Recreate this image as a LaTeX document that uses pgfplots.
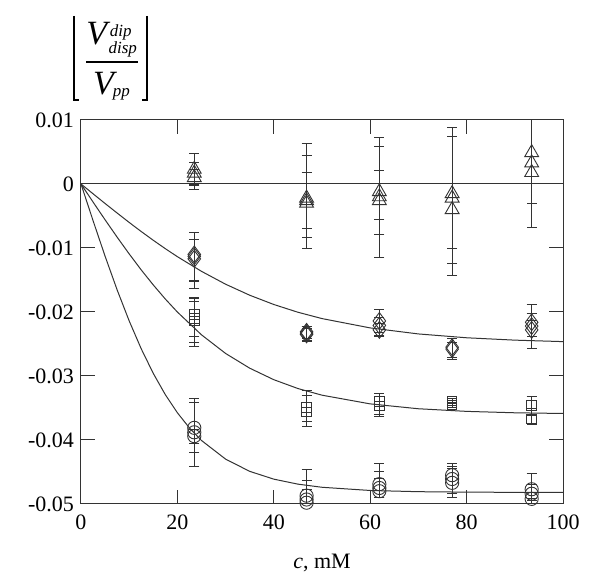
\documentclass[border=0pt]{standalone}
\usepackage{fontspec}
\setmainfont{Liberation Serif}
\usepackage{pgfplots}
\usepackage{pgfplotstable}
\pgfplotsset{compat=1.18}

\definecolor{ink}{HTML}{333333}

% x  y  (error plus / minus)
\pgfplotstableread{
x     y        ep      em
23.5  0.0023   0.0024  0.0024
23.5  0.0017   0.0016  0.0020
23.5  0.0010   0.0012  0.0018
46.8  -0.0022  0.0086  0.0078
46.8  -0.0026  0.0071  0.0058
46.8  -0.0030  0.0048  0.0039
61.9  -0.0012  0.0085  0.0103
61.9  -0.0020  0.0079  0.0059
61.9  -0.0026  0.0047  0.0030
77.0  -0.0015  0.0090  0.0085
77.0  -0.0022  0.0111  0.0102
77.0  -0.0040  0.0115  0.0103
93.5  0.0049   0.0111  0.0079
93.5  0.0033   0.0097  0.0101
93.5  0.0018   0.0090  0.0048
}\tri

\pgfplotstableread{
x     y        ep      em
23.5  -0.0110  0.0034  0.0040
23.5  -0.0113  0.0037  0.0050
23.5  -0.0117  0.0030  0.0035
46.8  -0.0231  0.0008  0.0010
46.8  -0.0233  0.0010  0.0011
46.8  -0.0235  0.0009  0.0011
61.9  -0.0214  0.0018  0.0018
61.9  -0.0221  0.0012  0.0015
61.9  -0.0228  0.0010  0.0011
77.0  -0.0255  0.0014  0.0016
77.0  -0.0258  0.0010  0.0016
93.5  -0.0216  0.0028  0.0023
93.5  -0.0222  0.0020  0.0035
93.5  -0.0228  0.0015  0.0011
}\dia

\pgfplotstableread{
x     y        ep      em
23.5  -0.0204  0.0026  0.0035
23.5  -0.0210  0.0026  0.0037
23.5  -0.0214  0.0035  0.0040
46.8  -0.0349  0.0027  0.0022
46.8  -0.0356  0.0026  0.0023
61.9  -0.0340  0.0013  0.0020
61.9  -0.0347  0.0020  0.0017
77.0  -0.0339  0.0004  0.0004
77.0  -0.0345  0.0004  0.0004
93.5  -0.0346  0.0014  0.0015
93.5  -0.0367  0.0016  0.0008
}\sqr

\pgfplotstableread{
x     y        ep      em
23.5  -0.0381  0.0046  0.0039
23.5  -0.0388  0.0046  0.0054
23.5  -0.0394  0.0010  0.0011
46.8  -0.0487  0.0041  0.0041
46.8  -0.0493  0.0030  0.0030
46.8  -0.0498  0.0020  0.0020
61.9  -0.0469  0.0033  0.0021
61.9  -0.0475  0.0026  0.0015
61.9  -0.0480  0.0020  0.0010
77.0  -0.0455  0.0019  0.0028
77.0  -0.0461  0.0020  0.0029
77.0  -0.0467  0.0022  0.0016
93.5  -0.0477  0.0024  0.0015
93.5  -0.0484  0.0015  0.0010
93.5  -0.0492  0.0010  0.0008
}\cir

\pgfplotsset{
  pts/.style={only marks, mark size=#1, ink,
    mark options={draw=ink, fill=none, line width=0.45pt},
    error bars/.cd, y dir=both, y explicit,
    error bar style={ink, line width=0.45pt},
    error mark options={ink, mark size=2.5pt, rotate=90, line width=0.45pt}},
  fit/.style={ink, line width=0.5pt, no marks},
}

\begin{document}
\begin{tikzpicture}
\begin{axis}[
    scale only axis,
    width=241pt, height=192pt,
    xmin=0, xmax=100,
    ymin=-0.05, ymax=0.01,
    xtick={0,20,40,60,80,100},
    ytick={-0.05,-0.04,-0.03,-0.02,-0.01,0,0.01},
    yticklabels={-0.05,-0.04,-0.03,-0.02,-0.01,0,0.01},
    scaled y ticks=false,
    /pgf/number format/assume math mode=true,
    tick align=inside,
    major tick length=7pt,
    axis line style={ink, line width=0.5pt},
    tick style={ink, line width=0.5pt},
    tick label style={font=\fontsize{11}{13}\selectfont},
    xticklabel style={yshift=-2pt},
    xlabel={\textit{c}, mM},
    xlabel style={font=\fontsize{11}{13}\selectfont, yshift=-5pt},
    clip=true,
    ]

    \coordinate (bl) at (rel axis cs:0,0);
    \coordinate (tr) at (rel axis cs:1,1);

    \addplot[fit] coordinates {(0,0) (100,0)};

    \addplot[fit] coordinates {
    (0,0) (2.5,-0.00153) (5,-0.00305) (7.5,-0.00454) (10,-0.00601)
    (12.5,-0.00743) (15,-0.00880) (17.5,-0.01011) (20,-0.01136)
    (25,-0.01365) (30,-0.01566) (35,-0.01738) (40,-0.01883) (45,-0.02004)
    (50,-0.02103) (60,-0.02249) (70,-0.02343) (80,-0.02403) (90,-0.02440)
    (100,-0.02463)};

    \addplot[fit] coordinates {
    (0,0) (2.5,-0.00282) (5,-0.00560) (7.5,-0.00831) (10,-0.01093)
    (12.5,-0.01343) (15,-0.01578) (17.5,-0.01798) (20,-0.02001)
    (25,-0.02357) (30,-0.02648) (35,-0.02878) (40,-0.03058) (45,-0.03196)
    (50,-0.03300) (60,-0.03436) (70,-0.03512) (80,-0.03553) (90,-0.03575)
    (100,-0.03586)};

    \addplot[fit] coordinates {
    (0,0) (2.5,-0.00572) (5,-0.01129) (7.5,-0.01655) (10,-0.02140)
    (12.5,-0.02576) (15,-0.02960) (17.5,-0.03293) (20,-0.03575)
    (22.5,-0.03812) (25,-0.04008) (30,-0.04299) (35,-0.04490)
    (40,-0.04612) (45,-0.04690) (50,-0.04739) (60,-0.04789)
    (70,-0.04808) (80,-0.04815) (90,-0.04818) (100,-0.04819)};

    \addplot[mark=triangle, pts=4pt]
      table[x=x, y=y, y error plus=ep, y error minus=em]{\tri};
    \addplot[mark=diamond, pts=4.2pt]
      table[x=x, y=y, y error plus=ep, y error minus=em]{\dia};
    \addplot[mark=square, pts=2.4pt]
      table[x=x, y=y, y error plus=ep, y error minus=em]{\sqr};
    \addplot[mark=o, pts=3.3pt]
      table[x=x, y=y, y error plus=ep, y error minus=em]{\cir};
\end{axis}

% y label: |V_disp^dip / V_pp| set by hand above the top-left corner
\coordinate (tl) at (tr -| bl);
\begin{scope}[shift={(tl)}, inner sep=0pt]
  \node[anchor=base west, font=\fontsize{17}{20}\selectfont\itshape] at (2.5pt,37.5pt) {V};
  \node[anchor=base west, font=\fontsize{8.5}{10}\selectfont\itshape] at (14.2pt,41.6pt) {dip};
  \node[anchor=base west, font=\fontsize{8.5}{10}\selectfont\itshape] at (13.6pt,33.4pt) {disp};
  \draw[line width=0.8pt] (2.5pt,29pt) -- (28.5pt,29pt);
  \node[anchor=base west, font=\fontsize{17}{20}\selectfont\itshape] at (5.8pt,12.5pt) {V};
  \node[anchor=base west, font=\fontsize{8.5}{10}\selectfont\itshape] at (15.8pt,11.5pt) {pp};
  \draw[line width=0.9pt] (-3.5pt,52pt) -- (-3.5pt,10pt) -- (-1pt,10pt);
  \draw[line width=0.9pt] (33pt,52pt) -- (33pt,10pt) -- (30.5pt,10pt);
\end{scope}

\pgfresetboundingbox
\path ([shift={(-40.5pt,-37.5pt)}]bl) rectangle ([shift={(18.5pt,60pt)}]tr);
\end{tikzpicture}
\end{document}
